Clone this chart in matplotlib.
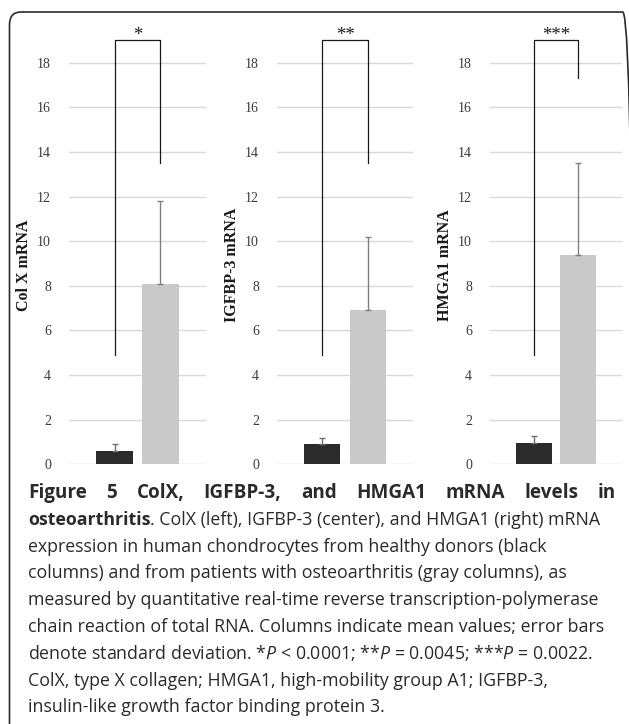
import matplotlib
matplotlib.use("Agg")
import matplotlib.pyplot as plt
from matplotlib.patches import FancyBboxPatch

# data
genes = ['ColX', 'IGFBP-3', 'HMGA1']
ylabels = ['Col X mRNA', 'IGFBP-3 mRNA', 'HMGA1 mRNA']
healthy_mean = [0.6, 0.9, 0.97]
healthy_sd = [0.3, 0.27, 0.3]
oa_mean = [8.1, 6.9, 9.4]
oa_sd = [3.7, 3.3, 4.1]
stars = ['*', '**', '***']
bracket_left_low = [4.9, 4.9, 4.9]
bracket_right_low = [13.5, 13.5, 17.3]
bracket_top = 19.0
yticks = [0, 2, 4, 6, 8, 10, 12, 14, 16, 18]

caption_title = ['Figure', '5', 'ColX,', 'IGFBP-3,', 'and', 'HMGA1', 'mRNA', 'levels', 'in']
caption_bold_word = 'osteoarthritis'
caption_lines = [
    '. ColX (left), IGFBP-3 (center), and HMGA1 (right) mRNA',
    'expression in human chondrocytes from healthy donors (black',
    'columns) and from patients with osteoarthritis (gray columns), as',
    'measured by quantitative real-time reverse transcription-polymerase',
    'chain reaction of total RNA. Columns indicate mean values; error bars',
    r'denote standard deviation. *$P$ < 0.0001; **$P$ = 0.0045; ***$P$ = 0.0022.',
    'ColX, type X collagen; HMGA1, high-mobility group A1; IGFBP-3,',
    'insulin-like growth factor binding protein 3.',
]

plt.rcParams['mathtext.fontset'] = 'custom'
plt.rcParams['mathtext.rm'] = 'Open Sans'
plt.rcParams['mathtext.it'] = 'Open Sans:italic'

W, H = 629, 724
fig = plt.figure(figsize=(W / 100, H / 100), dpi=100)
fig.patch.set_facecolor('white')

# rounded frame, right and bottom edges run off the picture
frame = FancyBboxPatch((9.5 / W, -0.05), (634 - 9.5) / W, 1.05 - 12 / H,
                       boxstyle="round,pad=0,rounding_size=0.018",
                       transform=fig.transFigure, fill=False,
                       edgecolor='#2a2a2a', linewidth=1.2)
fig.patches.append(frame)

ax_lefts = [69, 277, 490]
ax_widths = [137, 136, 132]
ax_top, ax_bottom = 18.1, 464.3

serif = 'Liberation Serif'
for i in range(3):
    ax = fig.add_axes([ax_lefts[i] / W, 1 - ax_bottom / H,
                       ax_widths[i] / W, (ax_bottom - ax_top) / H])
    ax.set_xlim(-1, 2)
    ax.set_ylim(0, 20)
    for s in ax.spines.values():
        s.set_visible(False)
    ax.set_yticks(yticks)
    ax.set_xticks([])
    ax.tick_params(axis='y', length=0, pad=13, labelsize=10, labelcolor='#3a3a3a')
    for lab in ax.get_yticklabels():
        lab.set_fontfamily(serif)
    for t in yticks:
        ax.axhline(t, color='#d9d9d9', linewidth=1.0, zorder=0)

    ax.bar([0], [healthy_mean[i]], width=0.8, color='#2b2b2b', zorder=2)
    ax.bar([1], [oa_mean[i]], width=0.8, color='#c9c9c9', zorder=2)
    ax.errorbar([0], [healthy_mean[i]], yerr=[[0], [healthy_sd[i]]], fmt='none',
                ecolor='#6e6e6e', elinewidth=1.0, capsize=2.5, capthick=1.0, zorder=3)
    ax.errorbar([1], [oa_mean[i]], yerr=[[0], [oa_sd[i]]], fmt='none',
                ecolor='#7f7f7f', elinewidth=1.0, capsize=2.5, capthick=1.0, zorder=3)

    ax.plot([0, 0, 1, 1], [bracket_left_low[i], bracket_top, bracket_top, bracket_right_low[i]],
            color='#1a1a1a', linewidth=0.9, zorder=4, clip_on=False)
    ax.text(0.5, bracket_top + 0.02, stars[i], ha='center', va='baseline',
            fontsize=13.5, fontfamily=serif, color='#1a1a1a')

    ax.set_ylabel(ylabels[i], fontsize=11.5, fontweight='bold', fontfamily=serif, color='#1a1a1a')
    ax.yaxis.set_label_coords(-37 / ax_widths[i], (ax_bottom - 265) / (ax_bottom - ax_top))

# caption
renderer = fig.canvas.get_renderer()
cap_font = 'Open Sans'
cap_size = 12.75
cap_left, cap_right = 28, 616
base0, step = 498, 26.8


def put(x, y, txt, weight='normal', size=cap_size):
    t = fig.text(x / W, 1 - y / H, txt, fontsize=size, fontfamily=cap_font,
                 fontweight=weight, color='#2a2a2a', ha='left', va='baseline')
    return t, t.get_window_extent(renderer).width

# justified bold title line
items = [put(0, base0, w, 'bold', 13.6) for w in caption_title]
total = sum(wd for _, wd in items)
gap = (cap_right - cap_left - total) / (len(items) - 1)
x = cap_left
for t, wd in items:
    t.set_x(x / W)
    x += wd + gap

for k, line in enumerate(caption_lines):
    y = base0 + (k + 1) * step
    x = cap_left
    if k == 0:
        _, wd = put(x, y, caption_bold_word, 'bold')
        x += wd
    put(x, y, line)

fig.savefig('out.png', dpi=100)
